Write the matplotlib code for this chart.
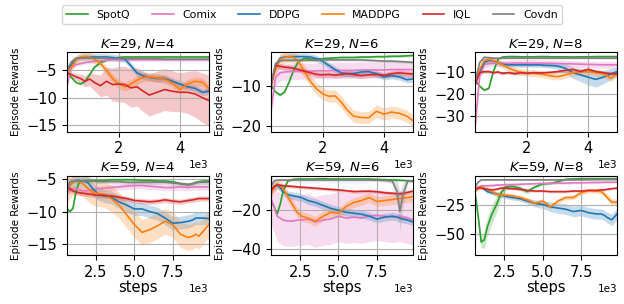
import matplotlib
matplotlib.use('Agg')
import matplotlib.pyplot as plt
import numpy as np

methods = ['SpotQ', 'Comix', 'DDPG', 'MADDPG', 'IQL', 'Covdn']
colours = {'SpotQ': '#2ca02c', 'Comix': '#e377c2', 'DDPG': '#1f77b4',
           'MADDPG': '#ff7f0e', 'IQL': '#d62728', 'Covdn': '#7f7f7f'}

# training steps at which the smoothed rewards were logged
steps_short = [300, 450, 600, 750, 900, 1050, 1200, 1400, 1600, 1800, 2000, 2200,
               2400, 2600, 2800, 3000, 3250, 3500, 3750, 4000, 4250, 4500, 4750, 4950]
steps_long = [600, 800, 1000, 1200, 1400, 1700, 2000, 2300, 2600, 3000, 3500, 4000, 4500,
              5000, 5500, 6000, 6500, 7000, 7500, 8000, 8500, 8800, 9000, 9200, 9500, 9850]

# ---- K=29, N=4 ----
k29n4_mean = {
    'SpotQ':  [-5.3, -6.3, -7.2, -7.5, -7.0, -5.8, -4.5, -3.6, -3.2, -2.9, -2.7, -2.6,
               -2.6, -2.6, -2.6, -2.6, -2.6, -2.6, -2.6, -2.6, -2.6, -2.6, -2.6, -2.6],
    'Comix':  [-8.0, -4.5, -4.0, -3.8, -3.6, -3.5, -3.4, -3.3, -3.2, -3.1, -3.1, -3.1,
               -3.1, -3.1, -3.1, -3.1, -3.1, -3.1, -3.1, -3.1, -3.1, -3.1, -3.1, -3.1],
    'DDPG':   [-5.3, -4.0, -3.0, -2.7, -2.6, -2.6, -2.6, -2.6, -2.6, -2.7, -2.8, -3.0,
               -4.2, -5.5, -6.0, -6.3, -6.5, -6.5, -7.0, -7.5, -8.0, -8.3, -9.0, -8.8],
    'MADDPG': [-5.3, -4.5, -3.2, -2.6, -2.5, -2.6, -3.0, -3.8, -5.0, -6.5, -7.5, -8.0,
               -7.5, -6.8, -6.3, -6.2, -6.4, -6.6, -7.3, -8.5, -7.5, -7.0, -7.2, -8.3],
    'IQL':    [-5.5, -5.8, -6.2, -6.5, -7.0, -6.6, -7.2, -7.8, -7.0, -7.6, -7.5, -7.6,
               -8.2, -8.0, -8.8, -9.5, -9.0, -8.5, -8.8, -9.0, -9.0, -9.3, -10.0, -10.5],
    'Covdn':  [-5.0, -3.5, -2.8, -2.8, -2.8, -2.8, -2.8, -2.8, -2.8, -2.9, -2.9, -2.9,
               -2.9, -2.9, -2.9, -2.9, -2.9, -3.0, -3.0, -3.0, -3.0, -3.0, -3.0, -3.0],
}
k29n4_spread = {
    'SpotQ': 0.2, 'Comix': 0.3, 'DDPG': 0.6, 'MADDPG': 0.8, 'Covdn': 0.2,
    'IQL': [0.5, 0.5, 0.6, 0.8, 1.0, 1.2, 1.5, 2.0, 2.5, 3.0, 3.2, 3.3,
            3.5, 3.5, 3.7, 3.8, 3.8, 3.8, 3.7, 3.5, 3.8, 4.2, 4.5, 4.6],
}

# ---- K=29, N=6 ----
k29n6_mean = {
    'SpotQ':  [-10.0, -11.5, -12.3, -11.5, -9.0, -6.0, -4.0, -3.2, -3.4, -3.4, -3.3, -3.2,
               -3.1, -3.0, -3.0, -3.0, -2.9, -2.9, -2.8, -2.8, -2.7, -2.7, -2.6, -2.5],
    'Comix':  [-16.0, -8.0, -6.8, -6.6, -6.5, -6.5, -6.4, -6.4, -6.4, -6.3, -6.3, -6.3,
               -6.2, -6.2, -6.2, -6.2, -6.1, -6.1, -6.1, -6.1, -6.0, -6.0, -6.0, -6.0],
    'DDPG':   [-10.0, -5.0, -3.2, -2.9, -2.8, -2.8, -2.8, -2.8, -2.9, -3.3, -4.0, -5.0,
               -6.0, -6.8, -7.0, -7.0, -6.6, -6.5, -7.0, -7.8, -7.5, -7.8, -8.5, -8.3],
    'MADDPG': [-10.0, -6.0, -3.5, -3.0, -2.8, -3.0, -4.0, -6.5, -9.0, -10.8, -12.0, -12.6,
               -12.5, -14.0, -16.0, -17.5, -17.8, -17.9, -16.3, -17.0, -16.5, -16.8, -17.5, -18.6],
    'IQL':    [-10.0, -5.0, -5.2, -5.4, -5.5, -5.7, -6.0, -6.4, -6.8, -7.2, -7.3, -7.2,
               -7.4, -7.2, -7.0, -7.2, -7.5, -7.3, -7.2, -7.4, -7.0, -6.8, -7.0, -7.1],
    'Covdn':  [-10.0, -4.5, -3.8, -3.7, -3.7, -3.7, -3.7, -3.7, -3.7, -3.7, -3.6, -3.6,
               -3.6, -3.6, -3.6, -3.6, -3.6, -3.7, -3.8, -3.9, -3.9, -4.0, -4.1, -4.2],
}
k29n6_spread = {'SpotQ': 0.3, 'Comix': 2.0, 'DDPG': 0.8, 'MADDPG': 1.5, 'IQL': 0.7, 'Covdn': 0.3}

# ---- K=29, N=8 ----
k29n8_mean = {
    'SpotQ':  [-14.0, -16.5, -18.3, -17.5, -10.0, -4.5, -3.5, -3.3, -3.3, -3.4, -3.4, -3.4,
               -3.3, -3.3, -3.4, -3.4, -3.4, -3.5, -3.4, -3.4, -3.3, -3.3, -3.3, -3.3],
    'Comix':  [-35.0, -12.0, -7.0, -6.5, -6.3, -6.3, -6.3, -6.3, -6.2, -6.2, -6.2, -6.2,
               -6.2, -6.3, -6.3, -6.4, -6.5, -6.6, -6.7, -6.8, -6.9, -7.0, -7.0, -7.0],
    'DDPG':   [-14.0, -10.0, -6.0, -5.0, -5.2, -6.0, -6.8, -7.0, -7.0, -7.0, -7.0, -7.0,
               -7.0, -7.2, -7.3, -7.5, -8.5, -10.5, -11.5, -12.5, -13.5, -12.5, -11.0, -10.0],
    'MADDPG': [-14.0, -9.0, -5.0, -4.5, -5.0, -6.0, -7.0, -8.5, -9.5, -10.3, -10.5, -10.7,
               -11.0, -11.5, -12.0, -12.3, -11.5, -10.5, -10.2, -10.0, -10.5, -11.0, -13.0, -11.0],
    'IQL':    [-16.0, -10.5, -10.0, -10.0, -10.5, -10.2, -10.8, -10.5, -11.0, -10.5, -10.8, -10.5,
               -10.6, -10.5, -10.3, -10.0, -9.5, -9.0, -10.0, -9.0, -10.0, -10.5, -11.0, -11.0],
    'Covdn':  [-15.0, -6.0, -3.6, -3.8, -4.0, -4.0, -4.0, -4.0, -4.0, -4.0, -4.0, -4.0,
               -4.0, -4.0, -4.0, -4.0, -4.0, -4.0, -4.0, -4.0, -4.0, -4.0, -4.0, -4.0],
}
k29n8_spread = {
    'SpotQ': 0.5, 'Comix': 1.5, 'MADDPG': 1.5, 'IQL': 0.7, 'Covdn': 0.4,
    'DDPG': [1.0, 1.0, 1.0, 1.0, 1.0, 1.0, 1.0, 1.0, 1.0, 1.0, 1.0, 1.0,
             1.0, 1.0, 1.2, 1.5, 2.0, 2.5, 3.0, 3.5, 3.5, 3.0, 2.5, 2.0],
}

# ---- K=59, N=4 ----
k59n4_mean = {
    'SpotQ':  [-9.5, -10.0, -9.5, -7.0, -5.5, -5.2, -5.2, -5.2, -5.2, -5.2, -5.1, -5.1, -5.1,
               -5.1, -5.2, -5.2, -5.3, -5.3, -5.4, -5.7, -5.9, -5.7, -5.5, -5.4, -5.3, -5.3],
    'Comix':  [-7.0, -6.7, -6.5, -6.5, -6.6, -6.8, -6.8, -6.7, -6.5, -6.4, -6.3, -6.2, -6.1,
               -6.0, -6.0, -6.1, -6.2, -6.3, -6.3, -6.2, -6.3, -6.2, -6.2, -6.2, -6.2, -6.2],
    'DDPG':   [-6.5, -6.0, -5.5, -5.2, -5.2, -5.3, -5.6, -6.5, -7.2, -7.6, -7.8, -8.5, -9.0,
               -9.6, -9.6, -10.0, -10.3, -11.0, -11.8, -11.7, -11.5, -11.3, -11.0, -11.0, -11.0, -11.1],
    'MADDPG': [-7.0, -6.0, -5.5, -5.3, -5.4, -5.8, -6.5, -7.0, -7.2, -7.3, -8.0, -9.0, -10.5,
               -12.0, -13.2, -12.8, -12.2, -11.5, -12.0, -13.5, -14.0, -13.8, -13.5, -13.8, -13.0, -12.0],
    'IQL':    [-6.2, -6.5, -6.8, -7.0, -7.1, -7.2, -7.3, -7.4, -7.5, -7.5, -7.6, -7.8, -8.0,
               -8.3, -8.4, -8.5, -8.4, -8.2, -8.4, -8.5, -8.3, -8.2, -8.1, -8.0, -8.0, -8.0],
    'Covdn':  [-7.0, -5.4, -5.3, -5.3, -5.3, -5.3, -5.3, -5.3, -5.4, -5.4, -5.4, -5.4, -5.5,
               -5.5, -5.5, -5.5, -5.5, -5.5, -5.6, -5.7, -5.8, -5.7, -5.6, -5.5, -5.5, -5.5],
}
k59n4_spread = {'SpotQ': 0.2, 'Comix': 0.5, 'DDPG': 1.0, 'MADDPG': 2.0, 'IQL': 0.4, 'Covdn': 0.3}

# ---- K=59, N=6 ----
k59n6_mean = {
    'SpotQ':  [-15, -18, -22, -17, -10, -5, -4.2, -4, -4, -4, -4, -3.8, -4,
               -4, -4, -4, -4, -4, -4.2, -4.3, -4.5, -4.5, -4.6, -4.7, -4.8, -5],
    'Comix':  [-14, -18, -23, -24, -25, -25.5, -25.5, -25, -25, -24.5, -26, -25, -24.5,
               -23, -24, -23.5, -24, -23, -22.5, -23, -23.5, -23.2, -23, -23.5, -24, -25],
    'DDPG':   [-10, -8, -7, -8.5, -10.5, -12, -12.5, -13, -13.5, -15, -16, -17.5, -19,
               -20, -21, -21.5, -22, -23, -24.5, -23.5, -23, -23.5, -24, -24.5, -25, -26],
    'MADDPG': [-12, -8, -6.5, -7.5, -9, -13, -17, -21, -23, -24, -25.5, -23, -21,
               -21.5, -18, -16, -15, -13.5, -15.5, -15, -14.5, -14.2, -14, -13.8, -13.5, -13],
    'IQL':    [-10, -8, -7, -7.2, -7.4, -7.6, -7.8, -8, -8.2, -8.4, -8.7, -9, -9.3,
               -9.6, -10, -10.4, -10.3, -10.2, -10.5, -11, -11.3, -11.5, -11.5, -11.3, -10.8, -10.2],
    'Covdn':  [-8, -5, -4.5, -4.5, -4.5, -4.5, -4.5, -4.5, -4.5, -4.5, -4.5, -4.5, -4.5,
               -4.5, -4.5, -4.5, -4.5, -4.5, -4.6, -4.7, -5.0, -10, -20.5, -12, -5.0, -5.0],
}
k59n6_spread = {
    'SpotQ': 0.6, 'Comix': 13.0, 'DDPG': 2.0, 'MADDPG': 2.5, 'IQL': 0.8,
    'Covdn': [0.6, 0.6, 0.6, 0.6, 0.6, 0.6, 0.6, 0.6, 0.6, 0.6, 0.6, 0.6, 0.6,
              0.6, 0.6, 0.6, 0.6, 0.6, 0.6, 0.8, 1.5, 6.0, 10.0, 6.0, 1.0, 0.8],
}

# ---- K=59, N=8 ----
k59n8_mean = {
    'SpotQ':  [-15, -35, -57, -55, -44, -33, -25, -15, -10, -9.5, -11, -14, -10,
               -7.5, -7, -5.5, -3.5, -3.2, -3.0, -3.0, -3.0, -3.0, -3.0, -3.0, -3.0, -3.0],
    'Comix':  [-12, -10, -9, -9, -9, -8.8, -8.5, -8.3, -8, -8, -7.8, -7.5, -7.3,
               -7, -7, -6.8, -6.8, -6.5, -6.5, -6.3, -6.2, -6.2, -6, -6, -6, -6],
    'DDPG':   [-12, -11, -10, -12, -14, -15, -16, -17, -18, -19, -20, -22, -24,
               -25, -27, -28, -29, -31, -30, -32, -33, -33, -34, -36, -38, -33],
    'MADDPG': [-14, -11, -10, -11, -12, -14, -16, -17, -17, -17.5, -19, -21, -24,
               -22, -27, -22, -19, -19, -15, -13, -13.5, -14, -16, -19, -23, -23],
    'IQL':    [-12, -11, -11, -11.5, -12, -12.5, -12, -11, -11, -11.5, -12, -13, -13.5,
               -13.5, -14, -14, -14, -13.5, -13.5, -13, -13, -12.5, -12.5, -12, -11.5, -11],
    'Covdn':  [-10, -6, -4, -4, -4, -4, -4, -4, -4, -4, -4, -4, -4,
               -4, -4, -4, -4, -4, -4, -3.8, -3.8, -3.7, -3.7, -3.7, -3.7, -3.7],
}
k59n8_spread = {
    'Comix': 1.0, 'IQL': 1.0, 'Covdn': 0.6,
    'SpotQ': [1, 3, 5, 7, 8, 8, 7, 5, 3, 2, 2, 2, 1.5,
              1, 1, 1, 1, 1, 1, 1, 1, 1, 1, 1, 1, 1],
    'DDPG': [1, 1, 1, 1.5, 1.5, 2, 2, 2, 2, 2, 2, 2.5, 3,
             3.5, 4, 4.5, 4.5, 4.5, 4.5, 4.5, 4.5, 4.5, 4.5, 4.5, 5, 5],
    'MADDPG': [1.5, 1.5, 1.5, 1.5, 1.5, 2, 2, 2, 2, 2, 2, 2, 2,
               2, 2, 2, 2, 2, 2, 2, 2, 2, 2, 2.5, 3, 3],
}

panels = [
    ('$K$=29, $N$=4', steps_short, k29n4_mean, k29n4_spread, (-16.1, -1.7), [-15, -10, -5]),
    ('$K$=29, $N$=6', steps_short, k29n6_mean, k29n6_spread, (-21.3, -1.65), [-20, -10]),
    ('$K$=29, $N$=8', steps_short, k29n8_mean, k29n8_spread, (-36.8, -1.25), [-30, -20, -10]),
    ('$K$=59, $N$=4', steps_long, k59n4_mean, k59n4_spread, (-16.7, -4.45), [-15, -10, -5]),
    ('$K$=59, $N$=6', steps_long, k59n6_mean, k59n6_spread, (-42.9, -2.2), [-40, -20]),
    ('$K$=59, $N$=8', steps_long, k59n8_mean, k59n8_spread, (-68, -0.3), [-50, -25]),
]

fig, axes = plt.subplots(2, 3, figsize=(6.24, 3.04), dpi=100)
plt.subplots_adjust(left=0.107, right=0.989, top=0.829, bottom=0.161, wspace=0.437, hspace=0.553)

for ax, (title, steps, means, spreads, ylim, yticks) in zip(axes.flat, panels):
    x = np.array(steps)
    for m in methods:
        mu = np.array(means[m], dtype=float)
        sd = np.broadcast_to(np.array(spreads[m], dtype=float), mu.shape)
        ax.fill_between(x, mu - sd, mu + sd, color=colours[m], alpha=0.25, linewidth=0)
        ax.plot(x, mu, color=colours[m], linewidth=1.2, label=m)
    ax.set_xlim(x[0], x[-1])
    ax.set_ylim(*ylim)
    ax.set_yticks(yticks)
    ax.set_title(title, fontsize=9.5, pad=3)
    ax.set_ylabel('Episode Rewards', fontsize=7.5)
    ax.grid(True, color='#b0b0b0', linewidth=0.8)
    ax.tick_params(labelsize=10.5)
    ax.ticklabel_format(axis='x', style='sci', scilimits=(3, 3))
    ax.xaxis.get_offset_text().set_fontsize(7.5)

for ax in axes[1]:
    ax.set_xlabel('steps', fontsize=10.5, labelpad=0)

handles, labels = axes[0][0].get_legend_handles_labels()
fig.legend(handles, labels, loc='upper center', bbox_to_anchor=(0.5, 1.0), ncol=6,
           fontsize=7.8, frameon=True)

fig.savefig('out.png', dpi=100)
